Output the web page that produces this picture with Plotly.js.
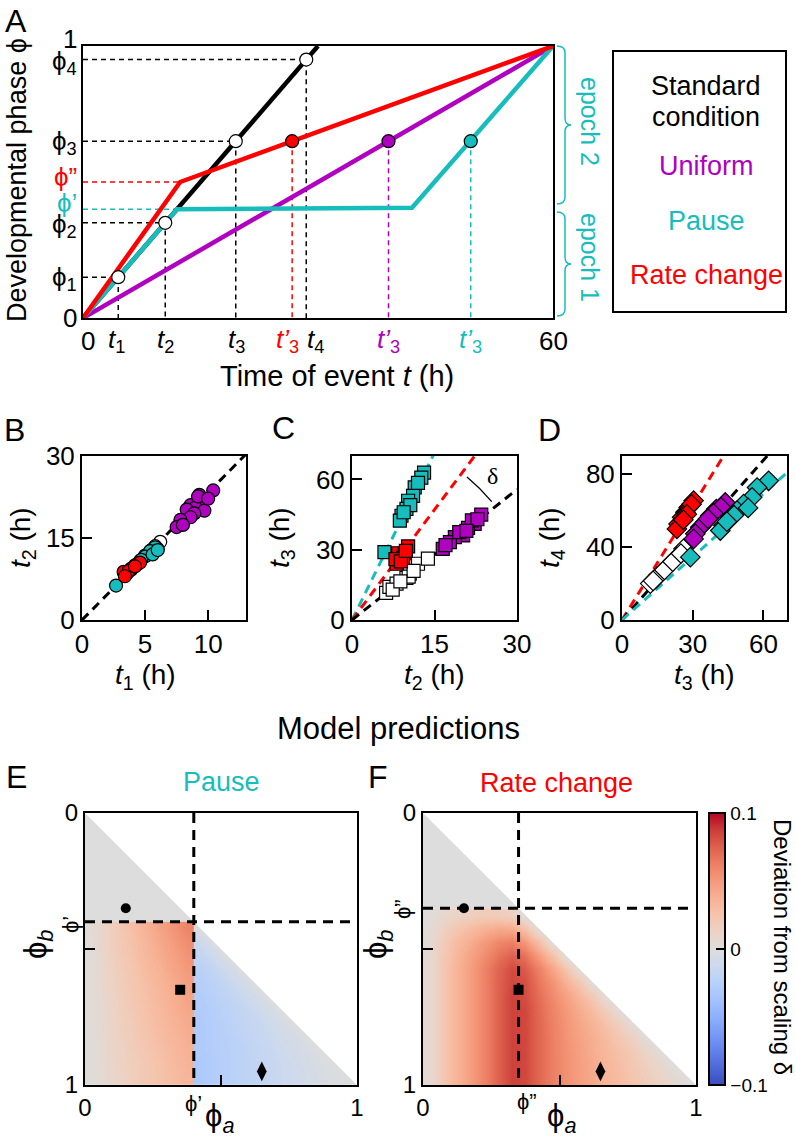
<!DOCTYPE html>
<html><head><meta charset="utf-8">
<script src="https://cdn.plot.ly/plotly-3.0.1.min.js"></script>
<style>html,body{margin:0;padding:0;background:#fff}#fig{width:796px;height:1141px}</style>
</head><body><div id="fig"></div>
<script>
// ================= DATA =================
// Panel A: developmental phase schematic
const phases = [0.15, 0.35, 0.65, 0.95];          // phi1..phi4
const tStandard = [4.5, 10.5, 19.5, 28.5];        // t1..t4 (standard condition)
const stdLineT = [0, 30],            stdLinePhi = [0, 1];
const uniLineT = [0, 60],            uniLinePhi = [0, 1];
const pauseLineT = [0, 12, 42, 60],  pauseLinePhi = [0, 0.4, 0.405, 1];
const rateLineT = [0, 12.4, 60],     rateLinePhi = [0, 0.5, 1];
const t3PrimeRate = 26.7, t3PrimeUniform = 39, t3PrimePause = 49.5;
const axisAmaxT = 60;

// Panel B: t1 vs t2 (circles)
const bStdT1 = [6.2, 5.8, 5.5, 5.0, 4.6, 4.2, 3.9, 3.6, 5.3, 6.0];
const bStdT2 = [14.3, 13.5, 12.8, 11.8, 10.8, 10.0, 9.2, 8.6, 12.2, 13.0];
const bUniT1 = [10.4, 9.3, 9.6, 8.6, 9.0, 8.3, 9.7, 8.9, 8.6, 7.8, 7.5, 8.0, 9.2, 10.0];
const bUniT2 = [23.7, 22.9, 21.8, 21.0, 20.6, 20.2, 20.0, 19.5, 18.8, 18.3, 17.0, 17.4, 22.6, 22.2];
const bPauT1 = [2.7, 5.8, 5.4, 5.0, 4.7, 5.6, 6.0, 4.4];
const bPauT2 = [6.3, 13.3, 12.6, 11.6, 11.0, 12.0, 12.8, 10.2];
const bRatT1 = [4.6, 3.5, 3.9, 3.3, 3.7, 4.2, 3.4];
const bRatT2 = [10.5, 8.4, 9.4, 8.8, 9.0, 9.8, 8.0];

// Panel C: t2 vs t3 (squares)
const cStdT2 = [6.2, 6.8, 8.1, 10.5, 9.9, 12.0, 13.8, 10.3, 11.2, 7.4, 8.8];
const cStdT3 = [11.6, 14.1, 15.5, 19.8, 18.0, 24.0, 26.2, 18.5, 21.0, 13.0, 16.5];
const cUniT2 = [23.5, 22.3, 21.1, 20.2, 18.7, 17.8, 16.5, 21.8, 19.5, 22.8, 17.0, 20.8];
const cUniT3 = [45.0, 41.0, 39.3, 36.1, 35.4, 33.2, 30.4, 42.5, 37.5, 43.0, 32.0, 38.0];
const cPauT2 = [13.1, 12.6, 11.4, 11.1, 10.2, 9.9, 9.0, 8.7, 5.9, 10.6, 9.4, 12.0];
const cPauT3 = [62.9, 60.8, 56.6, 53.0, 50.9, 47.4, 44.5, 42.4, 29.0, 49.0, 46.0, 58.5];
const cRatT2 = [10.2, 8.1, 8.7, 8.4, 9.6, 9.3, 7.9, 8.9, 9.8];
const cRatT3 = [31.4, 24.0, 27.0, 28.5, 28.5, 26.5, 26.0, 25.0, 29.5];
const cSlopeRate = 3.14, cSlopePause = 4.76;

// Panel D: t3 vs t4 (diamonds)
const dStdT3 = [26.1, 23.3, 19.8, 16.2, 12.0, 14.5, 18.0, 21.5, 25.0, 13.2];
const dStdT4 = [39.1, 34.5, 30.0, 25.5, 20.0, 23.0, 27.5, 32.0, 36.5, 21.5];
const dUniT3 = [43.8, 40.0, 37.5, 35.3, 33.2, 31.1, 30.4, 42.0, 38.8, 36.5];
const dUniT4 = [64.5, 60.9, 57.3, 53.6, 50.9, 47.3, 44.5, 62.0, 58.5, 55.5];
const dPauT3 = [62.2, 57.3, 55.2, 51.6, 48.8, 46.0, 43.1, 41.7, 29.0, 53.5, 47.5, 44.5];
const dPauT4 = [76.4, 72.7, 67.3, 63.6, 60.0, 56.4, 51.8, 49.1, 34.5, 61.5, 57.5, 54.0];
const dRatT3 = [30.4, 28.3, 26.9, 25.5, 24.0, 23.3, 29.5, 27.5, 26.0];
const dRatT4 = [65.5, 61.8, 59.1, 56.4, 52.7, 50.0, 63.5, 58.0, 55.0];
const dSlopeRate = 2.09, dSlopePause = 1.156;

const rangeB = [0, 13], rangeC = [0, 30], rangeD = [0, 70];

// Panels E/F: model predictions of deviation from scaling (delta)
const phiPauseE = 0.4, phiRateF = 0.35;
const grayX = [0.25, 0.75];
const eGrayY = [0.1, 0.3];
const fGrayY = [0.0875, 0.2625];
const eRedX = [0.025, 0.075, 0.125, 0.175, 0.225, 0.275, 0.325, 0.375];
const eBlueX = [0.425, 0.475, 0.525, 0.575, 0.625, 0.675, 0.725, 0.775, 0.825, 0.875, 0.925, 0.975];
const eLowY = [0.425, 0.475, 0.525, 0.575, 0.625, 0.675, 0.725, 0.775, 0.825, 0.875, 0.925, 0.975];
const eRedZ = [
 [0.004,0.012,0.021,0.029,0.037,0.045,0.052,0.060],
 [0.003,0.012,0.020,0.027,0.035,0.042,0.049,0.056],
 [0.003,0.011,0.019,0.026,0.033,0.040,0.046,0.053],
 [0.003,0.010,0.018,0.024,0.031,0.037,0.044,0.050],
 [0.003,0.010,0.017,0.023,0.029,0.035,0.041,0.047],
 [0.003,0.009,0.016,0.022,0.028,0.034,0.039,0.045],
 [0.003,0.009,0.015,0.021,0.027,0.032,0.038,0.043],
 [0.003,0.009,0.015,0.020,0.026,0.031,0.036,0.041],
 [0.002,0.008,0.014,0.019,0.025,0.030,0.034,0.039],
 [0.002,0.008,0.013,0.018,0.023,0.028,0.033,0.037],
 [0.002,0.007,0.013,0.017,0.022,0.027,0.031,0.036],
 [0.002,0.007,0.012,0.017,0.022,0.026,0.030,0.035]];
const eBlueZ = [
 [0,0,0,0,0,0,0,0,0,0,0,0],
 [-0.012,0,0,0,0,0,0,0,0,0,0,0],
 [-0.019,-0.011,0,0,0,0,0,0,0,0,0,0],
 [-0.024,-0.018,-0.010,0,0,0,0,0,0,0,0,0],
 [-0.026,-0.022,-0.016,-0.009,0,0,0,0,0,0,0,0],
 [-0.028,-0.024,-0.020,-0.014,-0.008,0,0,0,0,0,0,0],
 [-0.029,-0.026,-0.022,-0.018,-0.013,-0.007,0,0,0,0,0,0],
 [-0.030,-0.027,-0.023,-0.019,-0.016,-0.011,-0.006,0,0,0,0,0],
 [-0.030,-0.027,-0.024,-0.021,-0.017,-0.014,-0.009,-0.005,0,0,0,0],
 [-0.030,-0.027,-0.025,-0.022,-0.018,-0.015,-0.011,-0.008,-0.004,0,0,0],
 [-0.031,-0.028,-0.025,-0.022,-0.019,-0.016,-0.013,-0.009,-0.006,-0.003,0,0],
 [-0.031,-0.028,-0.025,-0.022,-0.019,-0.016,-0.013,-0.010,-0.007,-0.004,-0.002,0]];
const fX = [0.025,0.075,0.125,0.175,0.225,0.275,0.325,0.375,0.425,0.475,0.525,0.575,0.625,0.675,0.725,0.775,0.825,0.875,0.925,0.975];
const fLowY = [0.375,0.425,0.475,0.525,0.575,0.625,0.675,0.725,0.775,0.825,0.875,0.925,0.975];
const fZ = [
 [0.002,0.008,0.012,0.015,0.018,0.018,0.014,0,0,0,0,0,0,0,0,0,0,0,0,0],
 [0.004,0.014,0.023,0.030,0.036,0.041,0.040,0.025,0,0,0,0,0,0,0,0,0,0,0,0],
 [0.005,0.019,0.031,0.040,0.049,0.058,0.062,0.051,0.028,0,0,0,0,0,0,0,0,0,0,0],
 [0.006,0.021,0.034,0.046,0.056,0.067,0.075,0.068,0.049,0.027,0,0,0,0,0,0,0,0,0,0],
 [0.006,0.022,0.036,0.048,0.060,0.073,0.083,0.077,0.061,0.044,0.025,0,0,0,0,0,0,0,0,0],
 [0.006,0.022,0.036,0.048,0.060,0.074,0.084,0.081,0.066,0.053,0.038,0.022,0,0,0,0,0,0,0,0],
 [0.006,0.022,0.036,0.048,0.060,0.074,0.086,0.082,0.069,0.057,0.046,0.033,0.019,0,0,0,0,0,0,0],
 [0.006,0.022,0.036,0.048,0.060,0.074,0.086,0.084,0.071,0.060,0.050,0.040,0.029,0.016,0,0,0,0,0,0],
 [0.006,0.022,0.036,0.048,0.060,0.074,0.086,0.084,0.072,0.061,0.052,0.043,0.035,0.025,0.014,0,0,0,0,0],
 [0.006,0.022,0.036,0.048,0.060,0.074,0.086,0.084,0.072,0.062,0.053,0.045,0.038,0.030,0.021,0.012,0,0,0,0],
 [0.006,0.022,0.036,0.048,0.060,0.074,0.086,0.084,0.072,0.062,0.054,0.046,0.039,0.032,0.026,0.018,0.009,0,0,0],
 [0.006,0.022,0.036,0.048,0.060,0.074,0.086,0.084,0.072,0.062,0.054,0.047,0.040,0.034,0.028,0.021,0.014,0.007,0,0],
 [0.006,0.022,0.036,0.048,0.060,0.074,0.086,0.084,0.072,0.062,0.054,0.047,0.041,0.034,0.029,0.023,0.017,0.011,0.005,0]];

// ================= STYLE =================
const W = 796, H = 1141;
const px = v => v / W, py = v => 1 - v / H;
const FONT = 'Liberation Sans, Arial, DejaVu Sans, sans-serif';
const RED = '#ff0000', PUR = '#b000c0', CYN = '#17bdbd', BLK = '#000000';
const coolwarm = [
 [0.0,'rgb(59,76,192)'],[0.0625,'rgb(77,104,215)'],[0.125,'rgb(98,130,234)'],[0.1875,'rgb(119,154,247)'],
 [0.25,'rgb(141,176,254)'],[0.3125,'rgb(163,194,255)'],[0.375,'rgb(184,208,249)'],[0.4375,'rgb(204,217,238)'],
 [0.5,'rgb(221,221,221)'],[0.5625,'rgb(236,211,197)'],[0.625,'rgb(245,196,173)'],[0.6875,'rgb(247,177,148)'],
 [0.75,'rgb(244,154,123)'],[0.8125,'rgb(236,127,99)'],[0.875,'rgb(222,96,77)'],[0.9375,'rgb(203,62,56)'],
 [1.0,'rgb(180,4,38)']];

const traces = [];
const skip = {hoverinfo: 'skip'};
function line(xa, ya, x, y, color, width, dash) {
  traces.push(Object.assign({type:'scatter', mode:'lines', x, y, xaxis:xa, yaxis:ya,
    line:{color, width, dash: dash || 'solid'}, showlegend:false}, skip));
}
function pts(xa, ya, x, y, fill, symbol, size) {
  traces.push(Object.assign({type:'scatter', mode:'markers', x, y, xaxis:xa, yaxis:ya, cliponaxis:true,
    marker:{color:fill, symbol, size, line:{color:BLK, width:1.2}}, showlegend:false}, skip));
}

// ---- Panel A ----
const hx = [], hy = [];
tStandard.forEach((t, i) => { hx.push(0, t, t, null); hy.push(phases[i], phases[i], 0, null); });
line('x','y', hx, hy, BLK, 1.5, '5px,4px');
line('x','y', [0, rateLineT[1], null, t3PrimeRate, t3PrimeRate], [rateLinePhi[1], rateLinePhi[1], null, phases[2], 0], RED, 1.5, '5px,4px');
line('x','y', [0, pauseLineT[1], null, t3PrimePause, t3PrimePause], [pauseLinePhi[1], pauseLinePhi[1], null, phases[2], 0], CYN, 1.5, '5px,4px');
line('x','y', [t3PrimeUniform, t3PrimeUniform], [phases[2], 0], PUR, 1.5, '5px,4px');
line('x','y', stdLineT, stdLinePhi, BLK, 4.5);
line('x','y', uniLineT, uniLinePhi, PUR, 4.5);
line('x','y', pauseLineT, pauseLinePhi, CYN, 4.5);
line('x','y', rateLineT, rateLinePhi, RED, 4.5);
pts('x','y', tStandard, phases, 'white', 'circle', 13);
pts('x','y', [t3PrimeRate], [phases[2]], RED, 'circle', 13);
pts('x','y', [t3PrimeUniform], [phases[2]], PUR, 'circle', 13);
pts('x','y', [t3PrimePause], [phases[2]], CYN, 'circle', 13);

// ---- Panel B ----
const dashBCD = '9px,6px';
line('x2','y2', [0, rangeB[1]], [0, rangeB[1] * phases[1] / phases[0]], BLK, 3, dashBCD);
pts('x2','y2', bStdT1, bStdT2, 'white', 'circle', 13);
pts('x2','y2', bUniT1, bUniT2, PUR, 'circle', 13);
pts('x2','y2', bPauT1, bPauT2, CYN, 'circle', 13);
pts('x2','y2', bRatT1, bRatT2, RED, 'circle', 13);

// ---- Panel C ----
line('x3','y3', [0, rangeC[1]], [0, rangeC[1] * cSlopePause], CYN, 3, dashBCD);
line('x3','y3', [0, rangeC[1]], [0, rangeC[1] * cSlopeRate], RED, 3, dashBCD);
line('x3','y3', [0, rangeC[1]], [0, rangeC[1] * phases[2] / phases[1]], BLK, 3, dashBCD);
pts('x3','y3', cStdT2, cStdT3, 'white', 'square', 13);
pts('x3','y3', cUniT2, cUniT3, PUR, 'square', 13);
pts('x3','y3', cPauT2, cPauT3, CYN, 'square', 13);
pts('x3','y3', cRatT2, cRatT3, RED, 'square', 13);

// ---- Panel D ----
line('x4','y4', [0, rangeD[1]], [0, rangeD[1] * dSlopeRate], RED, 3, dashBCD);
line('x4','y4', [0, rangeD[1]], [0, rangeD[1] * phases[3] / phases[2]], BLK, 3, dashBCD);
line('x4','y4', [0, rangeD[1]], [0, rangeD[1] * dSlopePause], CYN, 3, dashBCD);
pts('x4','y4', dStdT3, dStdT4, 'white', 'diamond', 15);
pts('x4','y4', dUniT3, dUniT4, PUR, 'diamond', 15);
pts('x4','y4', dPauT3, dPauT4, CYN, 'diamond', 15);
pts('x4','y4', dRatT3, dRatT4, RED, 'diamond', 15);

// ---- Panels E, F ----
function hm(xa, ya, x, y, z) {
  traces.push(Object.assign({type:'heatmap', x, y, z, xaxis:xa, yaxis:ya, coloraxis:'coloraxis', zsmooth:'best'}, skip));
}
const zeros2 = [[0,0],[0,0]];
hm('x5','y5', grayX, eGrayY, zeros2);
hm('x5','y5', eRedX, eLowY, eRedZ);
hm('x5','y5', eBlueX, eLowY, eBlueZ);
hm('x6','y6', grayX, fGrayY, zeros2);
hm('x6','y6', fX, fLowY, fZ);
['5','6'].forEach(k => {
  traces.push(Object.assign({type:'scatter', mode:'lines', x:[0,1,1,0], y:[0,0,1,0], fill:'toself',
    fillcolor:'white', line:{width:0, color:'white'}, xaxis:'x'+k, yaxis:'y'+k, showlegend:false}, skip));
});
line('x5','y5', [phiPauseE, phiPauseE], [0, 1], BLK, 3, '10px,7px');
line('x5','y5', [0, 0.98], [phiPauseE, phiPauseE], BLK, 3, '10px,7px');
line('x6','y6', [phiRateF, phiRateF], [0, 1], BLK, 3, '10px,7px');
line('x6','y6', [0, 0.98], [phiRateF, phiRateF], BLK, 3, '10px,7px');
['5','6'].forEach(k => {
  traces.push(Object.assign({type:'scatter', mode:'markers', x:[phases[0]], y:[phases[1]], xaxis:'x'+k, yaxis:'y'+k,
    marker:{color:BLK, symbol:'circle', size:10}, showlegend:false}, skip));
  traces.push(Object.assign({type:'scatter', mode:'markers', x:[phases[1]], y:[phases[2]], xaxis:'x'+k, yaxis:'y'+k,
    marker:{color:BLK, symbol:'square', size:10}, showlegend:false}, skip));
  traces.push(Object.assign({type:'scatter', mode:'markers', x:[phases[2]], y:[phases[3]], xaxis:'x'+k, yaxis:'y'+k,
    marker:{color:BLK, symbol:'diamond-tall', size:14}, showlegend:false}, skip));
});

// ================= LAYOUT =================
function ax(extra, fs) {
  return Object.assign({showline:true, mirror:true, linecolor:BLK, linewidth:2, showgrid:false, zeroline:false,
    tickangle:0, fixedrange:true, tickmode:'array', ticks:'inside', ticklen:10, tickwidth:2, tickcolor:BLK,
    tickfont:{family:FONT, size:fs || 26, color:BLK}}, extra);
}
const layout = {
  width: W, height: H, margin:{l:0, r:0, t:0, b:0}, paper_bgcolor:'white', plot_bgcolor:'white',
  showlegend:false, font:{family:FONT, color:BLK},
  xaxis: ax({domain:[px(83), px(553)], anchor:'y', range:[0, axisAmaxT], ticks:'', showticklabels:false, tickvals:[]}),
  yaxis: ax({domain:[py(318), py(46)], anchor:'x', range:[0, 1], ticks:'', showticklabels:false, tickvals:[]}),
  xaxis2: ax({domain:[px(82), px(246)], anchor:'y2', range:rangeB, tickvals:[0,5,10]}),
  yaxis2: ax({domain:[py(620), py(456)], anchor:'x2', range:[0,30], tickvals:[0,15,30]}),
  xaxis3: ax({domain:[px(352), px(517)], anchor:'y3', range:rangeC, tickvals:[0,15,30]}),
  yaxis3: ax({domain:[py(620), py(456)], anchor:'x3', range:[0,70], tickvals:[0,30,60]}),
  xaxis4: ax({domain:[px(622), px(787)], anchor:'y4', range:rangeD, tickvals:[0,30,60]}),
  yaxis4: ax({domain:[py(620), py(456)], anchor:'x4', range:[0,90], tickvals:[0,40,80]}),
  xaxis5: ax({domain:[px(85), px(357)], anchor:'y5', range:[0,1], tickvals:[0,0.5,1], ticktext:['0','','1']}, 24),
  yaxis5: ax({domain:[py(1085), py(813)], anchor:'x5', range:[1,0], tickvals:[0,0.5,1], ticktext:['0','','1']}, 24),
  xaxis6: ax({domain:[px(423), px(696)], anchor:'y6', range:[0,1], tickvals:[0,0.5,1], ticktext:['0','','1']}, 24),
  yaxis6: ax({domain:[py(1085), py(813)], anchor:'x6', range:[1,0], tickvals:[0,0.5,1], ticktext:['0','','1']}, 24),
  coloraxis: {cmin:-0.1, cmax:0.1, colorscale:coolwarm, showscale:true,
    colorbar:{x:px(709), xanchor:'left', xpad:0, ypad:0, y:py(949), yanchor:'middle', len:272, lenmode:'pixels',
      thickness:16, thicknessmode:'pixels', outlinewidth:2, outlinecolor:BLK, tickmode:'array',
      tickvals:[-0.1,0,0.1], ticktext:['−0.1','0','0.1'], ticks:'inside', ticklen:10, tickwidth:2, tickcolor:BLK,
      tickfont:{family:FONT, size:19, color:BLK}}},
  annotations: [], shapes: []
};
function ann(text, x, y, size, color, angle, extra) {
  layout.annotations.push(Object.assign({text, x:px(x), y:py(y), xref:'paper', yref:'paper', showarrow:false,
    xanchor:'center', yanchor:'middle', textangle:angle || 0, font:{family:FONT, size, color: color || BLK}}, extra || {}));
}
// Panel A tick labels (placed at data positions)
function yTickA(text, val, color, shift) {
  layout.annotations.push({text, x:px(79), xref:'paper', y:val, yref:'y', xanchor:'right', yanchor:'middle',
    yshift: shift || 0, showarrow:false, font:{family:FONT, size:26, color: color || BLK}});
}
function xTickA(text, val, color, shift) {
  layout.annotations.push({text, x:val, xref:'x', y:py(341), yref:'paper', xanchor:'center', yanchor:'middle',
    xshift: shift || 0, showarrow:false, font:{family:FONT, size:26, color: color || BLK}});
}
yTickA('0', 0, BLK, 0); yTickA('1', 1, BLK, 7);
const yShiftPhi = [-1, -3, -1, -3];
['ϕ<sub>1</sub>','ϕ<sub>2</sub>','ϕ<sub>3</sub>','ϕ<sub>4</sub>'].forEach((s, i) => yTickA(s, phases[i], BLK, yShiftPhi[i]));
yTickA('ϕ’', pauseLinePhi[1], CYN, 6);
yTickA('ϕ”', rateLinePhi[1], RED, 5);
xTickA('0', 0, BLK, 5); xTickA('60', axisAmaxT, BLK, 0);
['<i>t</i><sub>1</sub>','<i>t</i><sub>2</sub>','<i>t</i><sub>3</sub>','<i>t</i><sub>4</sub>'].forEach((s, i) =>
  xTickA(s, tStandard[i], BLK, [-2, 0, 1, 9][i]));
const tp = '<i>t’</i><sub>3</sub>';
xTickA(tp, t3PrimeRate, RED, -5); xTickA(tp, t3PrimeUniform, PUR, 0); xTickA(tp, t3PrimePause, CYN, 0);

// Panel letters
ann('A', 16, 21, 32); ann('B', 14, 430, 32); ann('C', 283, 428, 32); ann('D', 549, 430, 32);
ann('E', 16, 777, 32); ann('F', 378, 777, 32);
// Panel A texts
ann('Developmental phase ϕ', 17, 180, 27, BLK, -90);
ann('Time of event <i>t</i> (h)', 337, 376, 29);
ann('epoch 2', 590, 121, 25, CYN, 90);
ann('epoch 1', 590, 257, 25, CYN, 90);
ann('Standard', 706, 86, 27); ann('condition', 706, 117, 27);
ann('Uniform', 706, 166, 27, PUR); ann('Pause', 706, 221, 27, CYN); ann('Rate change', 706, 275, 27, RED);
// Panels B-D axis titles
ann('<i>t</i><sub>1</sub> (h)', 145, 676, 28); ann('<i>t</i><sub>2</sub> (h)', 22, 538, 28, BLK, -90);
ann('<i>t</i><sub>2</sub> (h)', 434, 676, 28); ann('<i>t</i><sub>3</sub> (h)', 281, 538, 28, BLK, -90);
ann('<i>t</i><sub>3</sub> (h)', 704, 676, 28); ann('<i>t</i><sub>4</sub> (h)', 551, 538, 28, BLK, -90);
ann('δ', 492, 476, 22, BLK, 0, {font:{family:'Liberation Serif, DejaVu Serif, serif', size:24, color:BLK}});
// Panels E/F texts
ann('Model predictions', 398, 728, 31);
ann('Pause', 221, 782, 27, CYN); ann('Rate change', 556, 783, 27, RED);
ann('ϕ<sub><i>a</i></sub>', 220, 1118, 31); ann('ϕ<sub><i>b</i></sub>', 38, 945, 31, BLK, -90);
ann('ϕ<sub><i>a</i></sub>', 561, 1118, 31); ann('ϕ<sub><i>b</i></sub>', 378, 945, 31, BLK, -90);
ann('ϕ’', 193, 1103, 22); ann('ϕ’', 70, 925, 22, BLK, -90);
ann('ϕ”', 527, 1101, 22); ann('ϕ”', 402, 909, 22, BLK, -90);
ann('Deviation from scaling δ', 783, 947, 24, BLK, 90);

// Shapes: legend box, braces, delta arc
layout.shapes.push({type:'rect', xref:'paper', yref:'paper', x0:px(613), x1:px(786), y0:py(312), y1:py(51),
  line:{color:BLK, width:2}, fillcolor:'rgba(0,0,0,0)'});
function brace(xl, xm, xt, y1, y2, r) {
  const ym = (y1 + y2) / 2;
  const P = (a, b) => `${px(a)},${py(b)}`;
  return `M${P(xl,y1)} Q${P(xm,y1)} ${P(xm,y1+r)} L${P(xm,ym-r)} Q${P(xm,ym)} ${P(xt,ym)} ` +
         `Q${P(xm,ym)} ${P(xm,ym+r)} L${P(xm,y2-r)} Q${P(xm,y2)} ${P(xl,y2)}`;
}
layout.shapes.push({type:'path', xref:'paper', yref:'paper', path:brace(557, 565, 571, 46, 204, 7), line:{color:CYN, width:1.5}});
layout.shapes.push({type:'path', xref:'paper', yref:'paper', path:brace(557, 565, 571, 212, 316, 7), line:{color:CYN, width:1.5}});
layout.shapes.push({type:'path', xref:'paper', yref:'paper',
  path:`M${px(467)},${py(477)} Q${px(480.5)},${py(488.2)} ${px(491.7)},${py(501.7)}`, line:{color:BLK, width:1.3}});

Plotly.newPlot('fig', traces, layout, {displayModeBar:false, staticPlot:true});
</script></body></html>
